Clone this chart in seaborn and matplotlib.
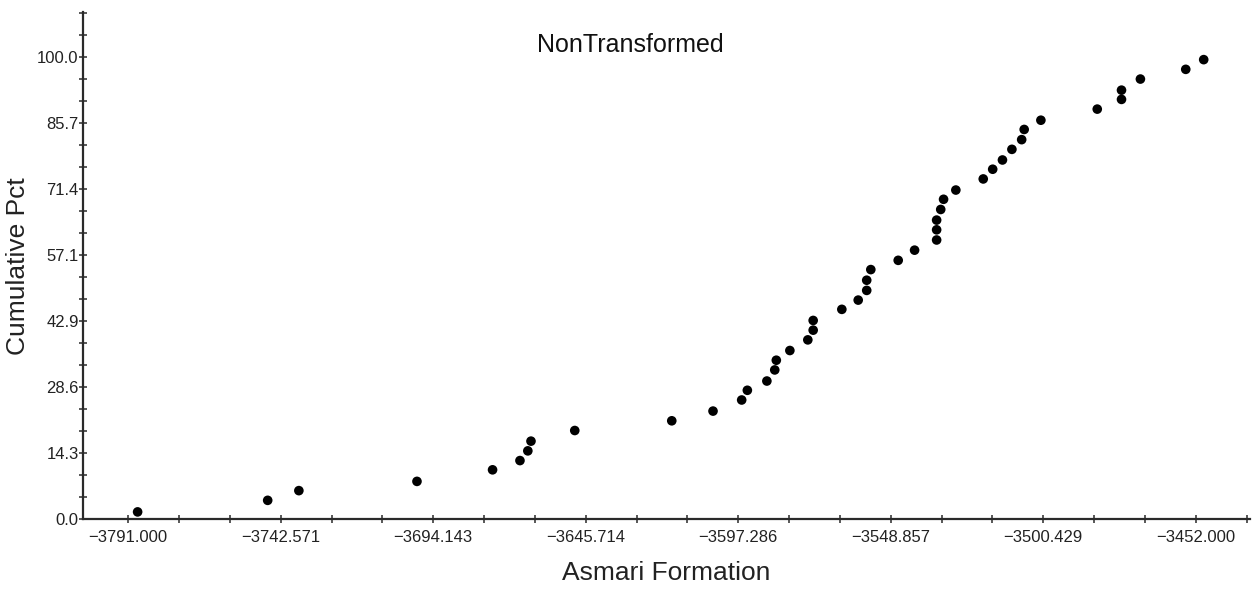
import numpy as np
import pandas as pd
import matplotlib
matplotlib.use("Agg")
import matplotlib.pyplot as plt
import seaborn as sns
from matplotlib.ticker import FixedLocator, FixedFormatter

# ---- data ----
depth = [-3788.0, -3746.7, -3736.8, -3699.3, -3675.3, -3666.6, -3664.1, -3663.1,
         -3649.2, -3618.4, -3605.3, -3596.2, -3594.4, -3588.2, -3585.7, -3585.2,
         -3580.9, -3575.2, -3573.5, -3573.5, -3564.4, -3559.2, -3556.5, -3556.5,
         -3555.2, -3546.5, -3541.3, -3534.3, -3534.3, -3534.3, -3533.0, -3532.1,
         -3528.2, -3519.5, -3516.5, -3513.4, -3510.4, -3507.3, -3506.5, -3501.2,
         -3483.3, -3475.6, -3475.6, -3469.6, -3455.2, -3449.5]
cum_pct = [1.6, 4.1, 6.2, 8.2, 10.7, 12.7, 14.8, 16.9,
           19.2, 21.3, 23.4, 25.8, 27.9, 29.9, 32.3, 34.4,
           36.5, 38.8, 40.9, 43.0, 45.4, 47.4, 49.5, 51.7,
           54.0, 56.0, 58.2, 60.4, 62.6, 64.7, 67.0, 69.2,
           71.2, 73.6, 75.7, 77.7, 80.0, 82.1, 84.3, 86.3,
           88.7, 90.8, 92.8, 95.2, 97.3, 99.4]

x_ticks = [-3791.000, -3742.571, -3694.143, -3645.714, -3597.286, -3548.857, -3500.429, -3452.000]
x_tick_labels = ["\u22123791.000", "\u22123742.571", "\u22123694.143", "\u22123645.714",
                 "\u22123597.286", "\u22123548.857", "\u22123500.429", "\u22123452.000"]
y_ticks = [0.0, 14.2857, 28.5714, 42.8571, 57.1429, 71.4286, 85.7143, 100.0]
y_tick_labels = ["0.0", "14.3", "28.6", "42.9", "57.1", "71.4", "85.7", "100.0"]

title = "NonTransformed"
x_label = "Asmari Formation"
y_label = "Cumulative Pct"

df = pd.DataFrame({"depth": depth, "pct": cum_pct})

# ---- style ----
sns.set_style("white")
plt.rcParams["font.family"] = ["Liberation Sans", "DejaVu Sans"]

W, H = 1253, 590
fig = plt.figure(figsize=(W / 100, H / 100), dpi=100)
ax_left, ax_right = 82.5, 1250.0
ax_top, ax_bottom = 12.0, 519.3
ax = fig.add_axes([ax_left / W, 1 - ax_bottom / H,
                   (ax_right - ax_left) / W, (ax_bottom - ax_top) / H])

sns.scatterplot(data=df, x="depth", y="pct", ax=ax, color="black",
                s=48, edgecolor="none", legend=False, zorder=3)

ax.set_xlim(-3805.5, -3434.8)
ax.set_ylim(0, 109.7)

xstep = (x_ticks[-1] - x_ticks[0]) / 7 / 3
ystep = 100.0 / 7 / 3
ax.xaxis.set_major_locator(FixedLocator(x_ticks))
ax.xaxis.set_major_formatter(FixedFormatter(x_tick_labels))
ax.xaxis.set_minor_locator(FixedLocator([x_ticks[0] + k * xstep for k in range(-1, 24)]))
ax.yaxis.set_major_locator(FixedLocator(y_ticks))
ax.yaxis.set_major_formatter(FixedFormatter(y_tick_labels))
ax.yaxis.set_minor_locator(FixedLocator([k * ystep for k in range(0, 24)]))

for side in ["top", "right"]:
    ax.spines[side].set_visible(False)
for side in ["left", "bottom"]:
    ax.spines[side].set_color("#2a2a2a")
    ax.spines[side].set_linewidth(1.6)

ax.tick_params(axis="both", which="both", direction="inout", length=6,
               width=1.1, color="#2a2a2a", bottom=True, left=True,
               top=False, right=False)
ax.tick_params(axis="x", which="major", labelsize=12, pad=5.0, labelcolor="#222222")
ax.tick_params(axis="y", which="major", labelsize=12, pad=-0.3, labelcolor="#222222")

ax.set_xlabel(x_label, fontsize=19, color="#222222", labelpad=11)
ax.set_ylabel(y_label, fontsize=19, color="#222222", labelpad=5)

fig.text(630 / W, 1 - 45 / H, title, fontsize=18, color="#111111",
         ha="center", va="center")

fig.savefig("out.png", dpi=100, facecolor="white")
